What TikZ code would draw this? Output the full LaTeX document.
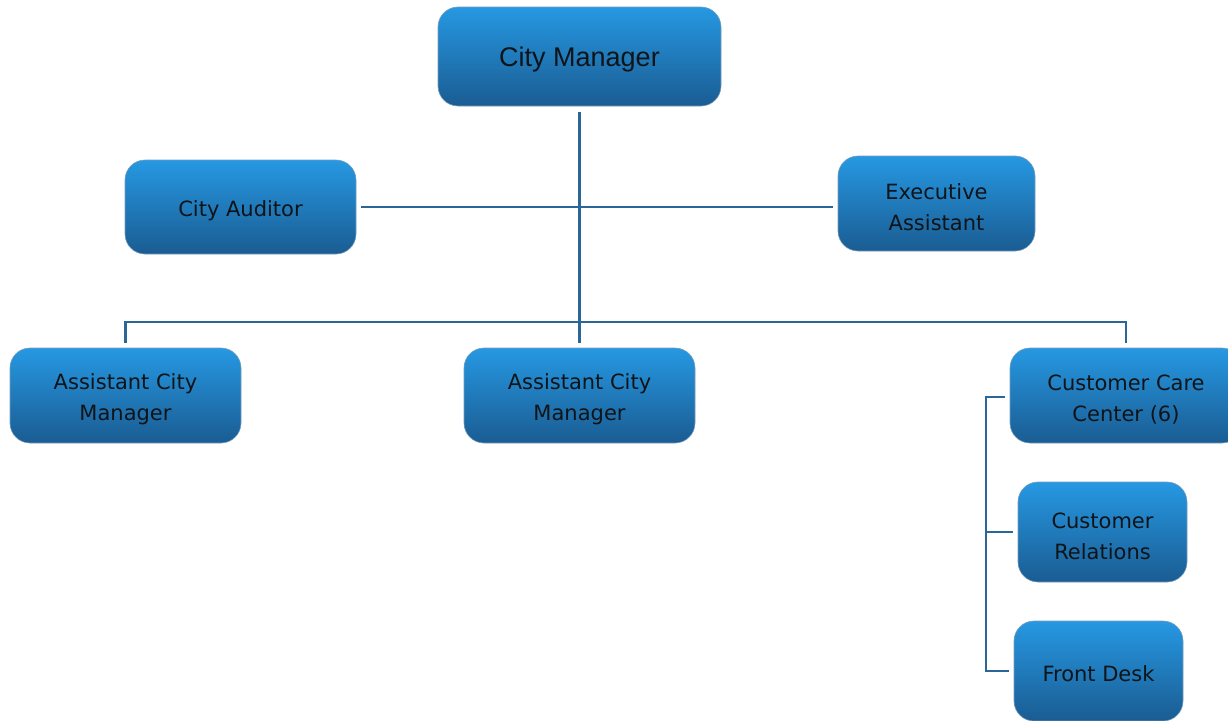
\documentclass[tikz,border=0pt]{standalone}
\usepackage{fontspec}
\setmainfont{DejaVu Sans}
\newfontfamily\bigfont{Liberation Sans}
\definecolor{boxtop}{RGB}{38,152,226}
\definecolor{boxbot}{RGB}{26,92,146}
\definecolor{linec}{RGB}{42,102,152}
\definecolor{txt}{RGB}{15,20,25}
\tikzset{
  orgbox/.style={rounded corners=20pt, top color=boxtop, bottom color=boxbot,
    draw=boxbot!60!white, line width=0.6pt, inner sep=0pt},
  lbl/.style={align=center, text=txt, font=\fontsize{21}{31}\selectfont, inner sep=0pt},
  conn/.style={draw=linec, line width=2.9pt}
}
\begin{document}
\begin{tikzpicture}[x=1pt,y=-1pt]
\useasboundingbox (0,0) rectangle (1228,720);
\node[orgbox, minimum width=283pt, minimum height=99pt] (cm) at (579.5,56.5) {};
\node[orgbox, minimum width=231pt, minimum height=94pt] (aud) at (240.5,207) {};
\node[orgbox, minimum width=197pt, minimum height=95pt] (exa) at (936.5,203.5) {};
\node[orgbox, minimum width=231pt, minimum height=95pt] (acm1) at (125.5,395.5) {};
\node[orgbox, minimum width=231pt, minimum height=95pt] (acm2) at (579.5,395.5) {};
\node[orgbox, minimum width=232pt, minimum height=95pt] (ccc) at (1126,395.5) {};
\node[orgbox, minimum width=169pt, minimum height=100pt] (cr) at (1102.5,532) {};
\node[orgbox, minimum width=169pt, minimum height=100pt] (fd) at (1098.5,671) {};
% labels
\node[lbl, font=\bigfont\fontsize{27}{32}\selectfont] (cmt) at ([yshift=-3pt]cm.center) {City Manager};
\node[lbl] (audt) at ([yshift=-3.5pt]aud.center) {City Auditor};
\node[lbl] (exat) at ([yshift=-3.5pt]exa.center) {Executive\\Assistant};
\node[lbl] (acm1t) at ([yshift=-4pt]acm1.center) {Assistant City\\Manager};
\node[lbl] (acm2t) at ([yshift=-4pt]acm2.center) {Assistant City\\Manager};
\node[lbl] (ccct) at ([yshift=-4pt]ccc.center) {Customer Care\\Center (6)};
\node[lbl] (crt) at ([yshift=-4pt]cr.center) {Customer\\Relations};
\node[lbl] (fdt) at ([yshift=-3pt]fd.center) {Front Desk};
% connectors
\coordinate (bus) at (579.5,322);
\coordinate (busL) at (125.5,322);
\coordinate (busR) at (1126,322);
\coordinate (brk) at (986,397);
\draw[conn, shorten <=6pt] (cm.south) -- (bus);
\draw[conn, shorten <=5pt, shorten >=5pt] (aud.east) -- (exa.west |- aud.east);
\draw[conn, line cap=rect] (busL) -- (busR);
\draw[conn, shorten >=5pt] (busL) -- (acm1.north);
\draw[conn, shorten >=5pt] (bus) -- (acm2.north);
\draw[conn, shorten >=5pt] (busR) -- (ccc.north);
\draw[conn, shorten <=5pt, shorten >=5pt] (ccc.west |- brk) -- (brk) |- (fd.west);
\draw[conn, shorten >=5pt] (brk |- cr.west) -- (cr.west);
\end{tikzpicture}
\end{document}
